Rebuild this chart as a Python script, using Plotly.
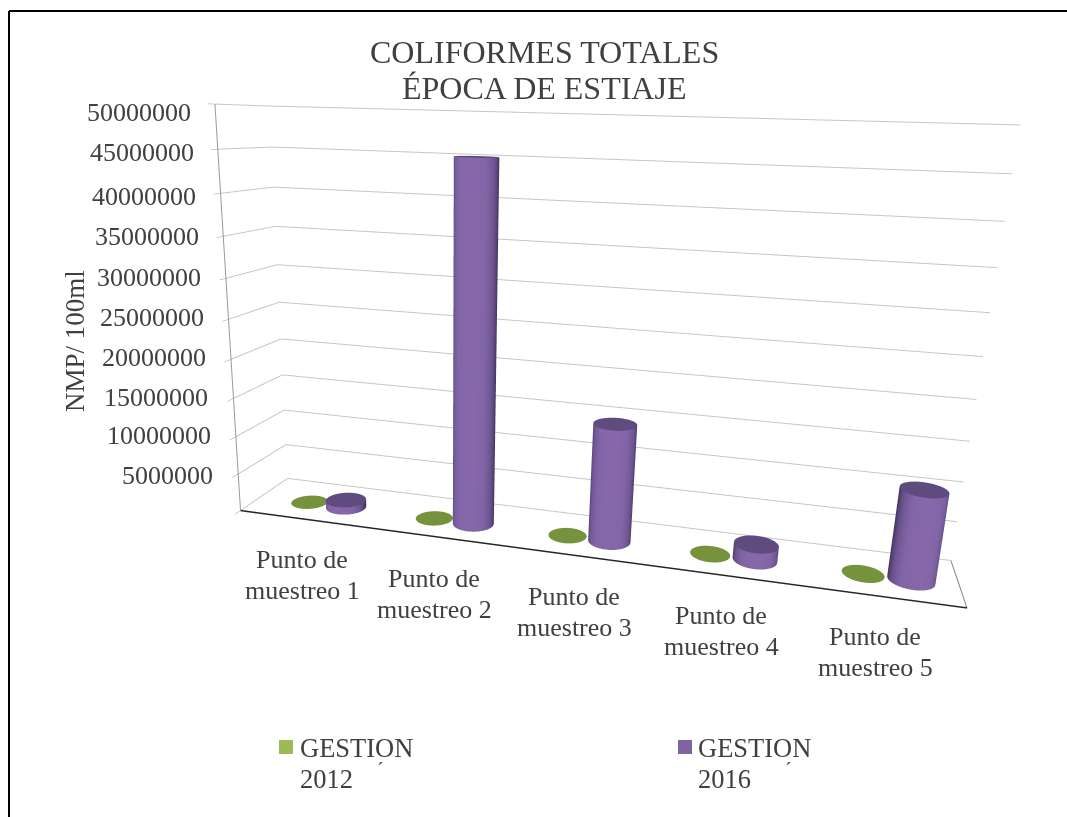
import numpy as np
import plotly.graph_objects as go

categories = ["Punto de<br>muestreo 1", "Punto de<br>muestreo 2", "Punto de<br>muestreo 3",
              "Punto de<br>muestreo 4", "Punto de<br>muestreo 5"]
gestion_2012 = [30000, 30000, 30000, 30000, 30000]
gestion_2016 = [1000000, 45000000, 15000000, 2000000, 11000000]
tick_values = [5000000 * i for i in range(1, 11)]
title_lines = ["COLIFORMES TOTALES", "ÉPOCA DE ESTIAJE"]
series_names = ["GESTION<br>2012", "GESTION<br>2016"]
y_title = "NMP/ 100ml"

W, H = 1067, 817
ASPECT = dict(x=1.7456, y=0.2488, z=1.0)
SERIF = "Liberation Serif"
INK = "#404040"
GRID = "#c6c6c6"
DX, YC = 0.0532, 0.4267

def px(x): return x / W
def py(y): return 1 - y / H

SIDE_P = [[0, "#46365f"], [0.45, "#6c5490"], [0.8, "#8165a6"], [1, "#8668aa"]]
TOP_P = [[0, "#5f4b7e"], [1, "#5f4b7e"]]
TOP_G = [[0, "#76923c"], [1, "#76923c"]]
FLAT = dict(ambient=1, diffuse=0, specular=0, roughness=1, fresnel=0)

def cylinder(cx, r, h, side, top):
    ry = r * (ASPECT["x"] / 5) / ASPECT["y"]
    t = np.linspace(0, 2 * np.pi, 73)
    X = np.array([cx + r * np.cos(t)] * 2)
    Y = np.array([YC + ry * np.sin(t)] * 2)
    Z = np.array([np.zeros_like(t), np.full_like(t, h)])
    S = np.clip(-np.sin(t - 0.1), 0, 1)
    S = np.array([S, S])
    out = []
    if side is not None:
        out.append(go.Surface(x=X, y=Y, z=Z, surfacecolor=S, colorscale=side, cmin=0, cmax=1,
                              showscale=False, lighting=FLAT, hoverinfo="skip"))
    rr = np.linspace(0, 1, 2)
    CX = cx + np.outer(rr, r * np.cos(t))
    CY = YC + np.outer(rr, ry * np.sin(t))
    CZ = np.full_like(CX, h)
    out.append(go.Surface(x=CX, y=CY, z=CZ, surfacecolor=np.zeros_like(CX), colorscale=top, cmin=0, cmax=1,
                          showscale=False, lighting=FLAT, hoverinfo="skip"))
    return out

def line3d(x, y, z, color, width):
    return go.Scatter3d(x=x, y=y, z=z, mode="lines", line=dict(color=color, width=width), hoverinfo="skip")

fig = go.Figure()
for v in [0] + tick_values:
    fig.add_trace(line3d([0, 0, 5], [0, 1, 1], [v, v, v], GRID, 2))
for i, (a, b) in enumerate(zip(gestion_2012, gestion_2016)):
    for tr in cylinder(i + 0.5 - 0.15 + DX, 0.135, a, None, TOP_G):
        fig.add_trace(tr)
    for tr in cylinder(i + 0.5 + 0.15 + DX, 0.148, b, SIDE_P, TOP_P):
        fig.add_trace(tr)
fig.add_trace(line3d([0, 5], [0, 0], [0, 0], "#262626", 3))
fig.add_trace(line3d([5, 5], [0, 1], [0, 0], "#808080", 2))
fig.add_trace(line3d([0, 0], [0, 0], [0, max(tick_values)], "#9a9a9a", 2))

ann = []
for i, l in enumerate(title_lines):
    ann.append(dict(x=px(544), y=py(52 + 36 * i), text=l, font=dict(size=32)))
cat_x = [302, 434, 574, 721, 875]
cat_y = [559, 578, 596, 615, 636]
for t, xx, yy in zip(categories, cat_x, cat_y):
    for j, part in enumerate(t.split("<br>")):
        ann.append(dict(x=px(xx), y=py(yy + 31 * j), text=part, font=dict(size=26)))
ann.append(dict(x=px(75), y=py(341), text=y_title, textangle=-90, font=dict(size=27)))
tick_x = [215, 213, 210, 208, 206, 203, 201, 198, 196, 193]
tick_y = [475, 435, 397, 358, 318, 277, 237, 196, 153, 113]
for v, xx, yy in zip(tick_values, tick_x, tick_y):
    ann.append(dict(x=px(xx), y=py(yy), text=str(v), xanchor="right", font=dict(size=26)))
for nm, xx, ax in zip(series_names, [298, 696], [380, 788]):
    for j, part in enumerate(nm.split("<br>")):
        ann.append(dict(x=px(xx), y=py(748 + 31 * j), text=part, xanchor="left", font=dict(size=26.5)))
    ann.append(dict(x=px(ax), y=py(770), text="´", font=dict(size=20)))
for a in ann:
    a.update(xref="paper", yref="paper", showarrow=False, yanchor="middle")
    a.setdefault("xanchor", "center")
    a["font"].update(family=SERIF, color=INK)

shapes = [
    dict(type="rect", xref="paper", yref="paper", x0=px(279), x1=px(293), y0=py(754), y1=py(740), fillcolor="#9bbb59", line_width=0),
    dict(type="rect", xref="paper", yref="paper", x0=px(678), x1=px(692), y0=py(754), y1=py(740), fillcolor="#8064a2", line_width=0),
    dict(type="line", xref="paper", yref="paper", x0=px(9), x1=1, y0=py(11), y1=py(11), line=dict(color="black", width=2)),
    dict(type="line", xref="paper", yref="paper", x0=px(9), x1=px(9), y0=py(11), y1=0, line=dict(color="black", width=2)),
]

ax_off = dict(showbackground=True, backgroundcolor="white", showgrid=False, zeroline=False,
              showticklabels=False, ticks="", title=dict(text=""), showline=False, showspikes=False)
fig.update_layout(
    width=W, height=H, margin=dict(l=0, r=0, t=0, b=0), paper_bgcolor="white", showlegend=False,
    annotations=ann, shapes=shapes, hovermode=False,
    scene=dict(
        domain=dict(x=[0, 1], y=[0, 1]),
        aspectmode="manual", aspectratio=ASPECT, dragmode=False,
        camera=dict(eye=dict(x=0.4331, y=-2.2213, z=0.4885), center=dict(x=-0.0815, y=-0.2051, z=-0.1247),
                    up=dict(x=-0.0156, y=-0.0407, z=1), projection=dict(type="perspective")),
        xaxis=dict(range=[0, 5], **ax_off),
        yaxis=dict(range=[0, 1], **ax_off),
        zaxis=dict(range=[0, max(tick_values)], tickvals=tick_values + [0], showbackground=True, backgroundcolor="white",
                   showgrid=False, zeroline=False, showticklabels=False,
                   ticks="outside", ticklen=8, tickcolor="#9a9a9a", title=dict(text=""), showline=False, showspikes=False),
    ),
)
cover = ("document.body.style.margin='0';document.documentElement.style.overflow='hidden';"
         "var c=document.createElement('div');c.style.cssText='position:fixed;left:0;top:0;right:0;bottom:0;z-index:99999';"
         "document.body.appendChild(c);")
fig.write_html("out.html", config=dict(displayModeBar=False, scrollZoom=False), post_script=cover)
